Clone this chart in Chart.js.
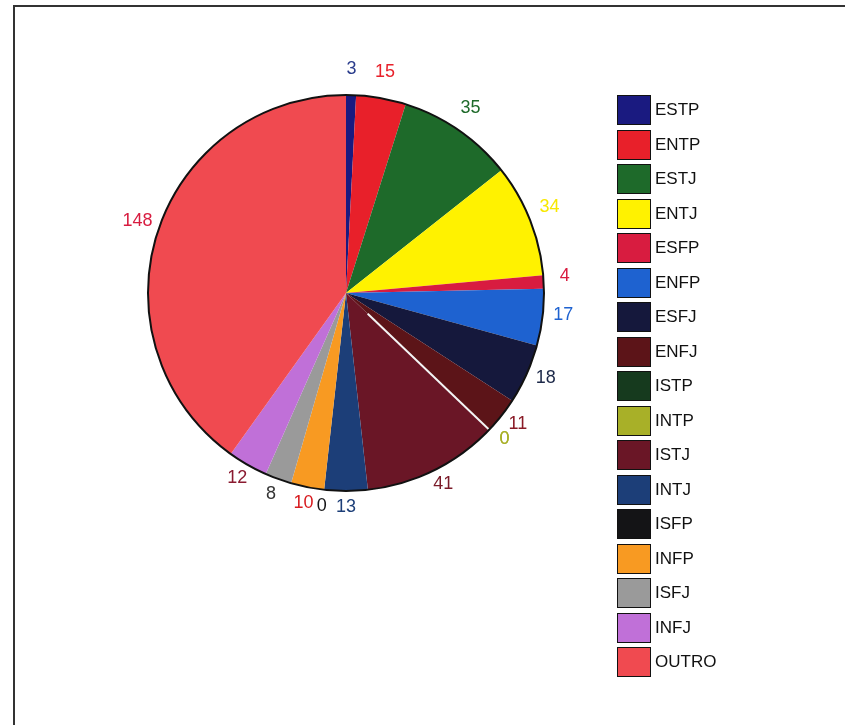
<!DOCTYPE html>
<html>
<head>
<meta charset="utf-8">
<script src="https://cdn.jsdelivr.net/npm/chart.js@4/dist/chart.umd.min.js"></script>
<style>
  html, body { margin: 0; padding: 0; background: #fff; }
  #wrap { position: relative; width: 845px; height: 725px; overflow: hidden; }
  #frame { position: absolute; left: 13px; top: 5px; width: 840px; height: 730px;
           border-left: 2px solid #333; border-top: 2px solid #333; }
  #pie { position: absolute; left: 0; top: 0; }
  #legend { position: absolute; left: 617px; top: 95px; list-style: none; margin: 0; padding: 0;
            font-family: "Liberation Sans", Arial, sans-serif; font-size: 17px; color: #111; }
  #legend li { display: flex; align-items: center; height: 30px; margin-bottom: 4.5px; }
  #legend .box { width: 32px; height: 28px; border: 1.5px solid #111; margin-right: 4px; }
</style>
</head>
<body>
<div id="wrap">
  <div id="frame"></div>
  <canvas id="pie" width="845" height="725"></canvas>
  <ul id="legend"></ul>
</div>
<script>
// MBTI types and counts
const types = ['ESTP','ENTP','ESTJ','ENTJ','ESFP','ENFP','ESFJ','ENFJ','ISTP','INTP','ISTJ','INTJ','ISFP','INFP','ISFJ','INFJ','OUTRO'];
const counts = [3, 15, 35, 34, 4, 17, 18, 11, 0, 0, 41, 13, 0, 10, 8, 12, 148];
const sliceColors = ['#1a1a80','#e8202a','#1e6a2a','#fff200','#d81c40','#1e62d0','#15183c','#5c1418',
                     '#163a1e','#a8b028','#6a1626','#1c3e78','#141416','#f89a22','#9a9a9a','#c070d8','#f04a50'];
const labelColors = ['#2a3c8c','#e8202a','#1e6a2a','#f8e800','#d81c40','#1e62d0','#1c2848','#8a1a26',
                     '#a8b028','#a8b028','#7a1a28','#1c3e78','#141416','#d81c20','#333333','#8a1a30','#d81c40'];

// legend built from the same arrays
const ul = document.getElementById('legend');
types.forEach((t, i) => {
  const li = document.createElement('li');
  li.innerHTML = `<span class="box" style="background:${sliceColors[i]}"></span>${t}`;
  ul.appendChild(li);
});

// value labels outside the pie + black outer rim
const pieDecor = {
  id: 'pieDecor',
  afterDatasetsDraw(chart) {
    const ctx = chart.ctx;
    const meta = chart.getDatasetMeta(0);
    const first = meta.data[0];
    ctx.save();
    // thin white seam where the empty ISTP/INTP slices sit (visible in the scan)
    const seam = meta.data[8].getProps(['startAngle'], true).startAngle;
    ctx.beginPath();
    ctx.moveTo(first.x + Math.cos(seam) * 30, first.y + Math.sin(seam) * 30);
    ctx.lineTo(first.x + Math.cos(seam) * first.outerRadius, first.y + Math.sin(seam) * first.outerRadius);
    ctx.strokeStyle = '#f4f4f4';
    ctx.lineWidth = 2;
    ctx.stroke();
    // rim
    ctx.beginPath();
    ctx.arc(first.x, first.y, first.outerRadius, 0, Math.PI * 2);
    ctx.lineWidth = 2;
    ctx.strokeStyle = '#111';
    ctx.stroke();
    ctx.font = '18px "Liberation Sans", Arial, sans-serif';
    ctx.textAlign = 'center';
    ctx.textBaseline = 'middle';
    meta.data.forEach((arc, i) => {
      const p = arc.getProps(['x','y','startAngle','endAngle','outerRadius'], true);
      const mid = (p.startAngle + p.endAngle) / 2;
      const r = p.outerRadius + 21;
      ctx.fillStyle = labelColors[i];
      ctx.fillText(String(counts[i]), p.x + Math.cos(mid) * r, p.y + Math.sin(mid) * r - 5);
    });
    ctx.restore();
  }
};

new Chart(document.getElementById('pie'), {
  type: 'pie',
  data: {
    labels: types,
    datasets: [{ data: counts, backgroundColor: sliceColors, borderWidth: 0 }]
  },
  options: {
    responsive: false,
    animation: false,
    layout: { padding: { left: 148, right: 301, top: 95, bottom: 234 } },
    plugins: { legend: { display: false }, tooltip: { enabled: false } }
  },
  plugins: [pieDecor]
});
</script>
</body>
</html>
